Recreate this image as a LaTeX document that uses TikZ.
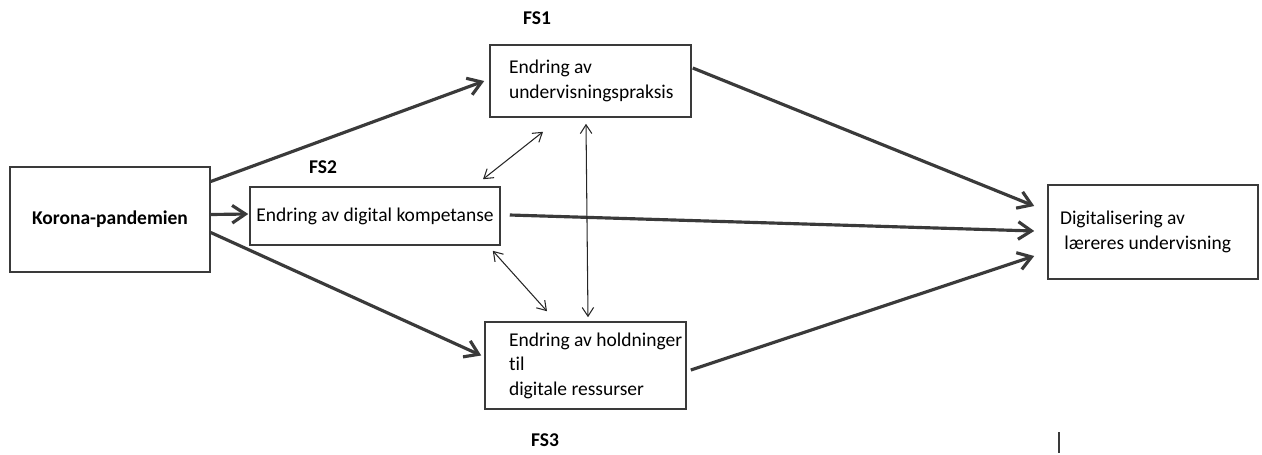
\documentclass[tikz,border=0pt]{standalone}
\usepackage{fontspec}
\setmainfont{Carlito}[Ligatures=NoCommon]
\usepackage{xcolor}
\usetikzlibrary{arrows.meta, calc}
\definecolor{linegray}{HTML}{3A3A3A}

\begin{document}
\begin{tikzpicture}[
        x=0.02cm, y=-0.02cm,
        font=\fontsize{11.1}{13.9}\selectfont,
        box/.style={draw=linegray, line width=0.9pt, align=flush left, inner sep=0pt},
        fslabel/.style={font=\fontsize{11.1}{13.9}\selectfont\bfseries},
        bigarrow/.style={draw=linegray, line width=1.8pt, -{Straight Barb[length=7.5pt, width=10pt]}},
        twoway/.style={draw=black!85, line width=0.6pt, {Straight Barb[length=5pt, width=6.5pt]}-{Straight Barb[length=5pt, width=6.5pt]}}
    ]
            \useasboundingbox (0,0) rectangle (1262,454);

            % boxes
            \node[box, minimum width=4cm, minimum height=2.1cm] (korona) at (110,219.5) {\bfseries Korona-pandemien};
            \node[box, minimum width=5cm, minimum height=1.16cm] (fs2) at (375,216) {Endring av digital kompetanse};
            \node[box, inner xsep=0.38cm, text width=3.26cm, minimum height=1.44cm] (fs1) at (590.5,81)
                {\mbox{Endring av}\\\mbox{undervisningspraksis}};
            \node[box, inner xsep=0.48cm, text width=3.06cm, minimum height=1.74cm] (fs3) at (585.5,365.5)
                {\mbox{Endring av holdninger}\\\mbox{til}\\\mbox{digitale ressurser}};
            \node[box, inner xsep=0.24cm, text width=3.72cm, minimum height=1.88cm] (result) at (1153,232)
                {\mbox{Digitalisering av}\\\mbox{\ l\ae reres undervisning}};

            % notations
            \node[fslabel] (fs1lab) at (537,18) {FS1};
            \node[fslabel] (fs2lab) at (323,167) {FS2};
            \node[fslabel] (fs3lab) at (545,440) {FS3};

            % main arrows
            \draw[bigarrow] ($(korona.east)+(0,-38)$) -- ($(fs1.west)+(-5,0)$);
            \draw[bigarrow] ($(korona.east)+(0,-5)$) -- ($(fs2.west)+(-1,-2)$);
            \draw[bigarrow] ($(korona.east)+(0,13)$) -- ($(fs3.west)+(-3,-10)$);

            \draw[bigarrow] ($(fs1.east)+(1,-13)$) -- ($(result.west)+(-13,-26)$);
            \draw[bigarrow] ($(fs2.east)+(9,-1)$) -- ($(result.west)+(-13,-1)$);
            \draw[bigarrow] ($(fs3.east)+(4,4.5)$) -- ($(result.west)+(-13,24)$);

            % links between the three
            \draw[twoway] ($(fs1.south)+(-47.5,14)$) -- ($(fs2.north)+(108,-7)$);
            \draw[twoway] ($(fs1.south)+(-4.5,6)$) -- ($(fs3.north)+(2.5,-4)$);
            \draw[twoway] ($(fs2.south east)+(-8,5)$) -- ($(fs3.north)+(-38.5,-10)$);

            % stray mark
            \draw[linegray, line width=0.6pt] (1059,432) -- (1059,453);

\end{tikzpicture}
\end{document}
